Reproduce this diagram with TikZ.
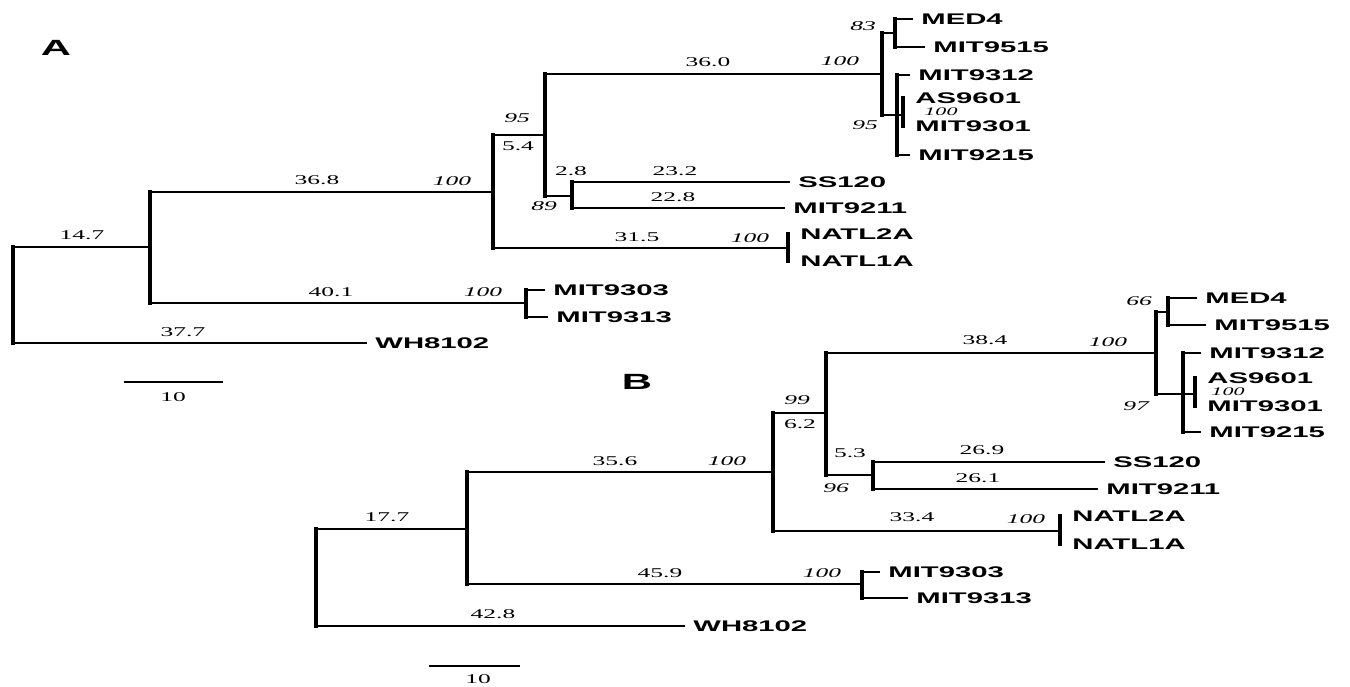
\documentclass[tikz,border=0pt]{standalone}
\usepackage{fontspec}
\usepackage{tikz}
\newfontfamily\taxfont[FakeStretch=1.9]{Liberation Sans}
\newfontfamily\numfont[FakeStretch=1.9]{Liberation Serif}

\tikzset{
  hbr/.style={line width=0.9pt},
  vbr/.style={line width=1.8pt, line cap=rect},
  sbar/.style={line width=1.3pt},
  taxon/.style={anchor=west, inner xsep=4pt, inner ysep=0pt, font={\taxfont\bfseries\fontsize{7.7}{9}\selectfont}},
  blen/.style={inner sep=0pt, font={\numfont\fontsize{6.7}{8}\selectfont}},
  boot/.style={inner sep=0pt, font={\numfont\itshape\fontsize{6.7}{8}\selectfont}},
  bootsm/.style={inner sep=0pt, font={\numfont\itshape\fontsize{5.8}{7}\selectfont}},
  panel/.style={inner sep=0pt, font={\taxfont\bfseries\fontsize{11}{13}\selectfont}},
}

\begin{document}
\begin{tikzpicture}[x=0.5pt, y=-0.5pt]
\useasboundingbox (0,0) rectangle (1350,686);

% Tree A
\begin{scope}
\node[panel] (labA) at (56,48) {A};
\foreach \n/\x/\y in {rA/13/295, a1/150/247, a2/493/192, a3/545/135, a4/882/74, a5/895/33,
    a6/897/115, a7/903/115, a8/572/196, a9/788/248, a10/526/303}
  \coordinate (\n) at (\x,\y);
\node[taxon] (medA)   at (913,19)  {MED4};
\node[taxon] (m9515A) at (925,47)  {MIT9515};
\node[taxon] (m9312A) at (910,75)  {MIT9312};
\node[taxon] (asA)    at (907,98)  {AS9601};
\node[taxon] (m9301A) at (907,126) {MIT9301};
\node[taxon] (m9215A) at (910,155) {MIT9215};
\node[taxon] (ssA)    at (790,182) {SS120};
\node[taxon] (m9211A) at (785,208) {MIT9211};
\node[taxon] (n2A)    at (792,234) {NATL2A};
\node[taxon] (n1A)    at (792,261) {NATL1A};
\node[taxon] (m9303A) at (545,290) {MIT9303};
\node[taxon] (m9313A) at (548,317) {MIT9313};
\node[taxon] (whA)    at (367,343) {WH8102};
% branches
\foreach \p/\c in {rA/a1, rA/whA, a1/a2, a1/a10, a2/a3, a2/a9, a3/a4, a3/a8, a4/a5, a4/a6,
    a5/medA, a5/m9515A, a6/m9312A, a6/a7, a6/m9215A, a8/ssA, a8/m9211A, a10/m9303A, a10/m9313A}
  \draw[hbr] (\p |- \c) -- (\c);
\foreach \n/\t/\b in {rA/a1/whA, a1/a2/a10, a2/a3/a9, a3/a4/a8, a4/a5/a6, a5/medA/m9515A,
    a6/m9312A/m9215A, a7/asA/m9301A, a8/ssA/m9211A, a9/n2A/n1A, a10/m9303A/m9313A}
  \draw[vbr] (\n |- \t) -- (\n |- \b);
% lengths and support
\foreach \t/\x/\y in {14.7/82/235, 36.8/317/180, 5.4/518/146, 36.0/708/62, 2.8/571/171,
    23.2/675/171, 22.8/673/197, 31.5/637/237, 40.1/331/292, 37.7/183/332}
  \node[blen] at (\x,\y) {\t};
\foreach \t/\x/\y in {100/452/181, 95/517/118, 100/840/61, 83/863/26, 95/865/125,
    89/544/206, 100/750/238, 100/483/292}
  \node[boot] at (\x,\y) {\t};
\node[bootsm] (bsA) at (941,112) {100};
\coordinate (sbA1) at (124,382);
\coordinate (sbA2) at (223,382);
\draw[sbar] (sbA1) -- (sbA2);
\node[blen] (sbtA) at (173,397) {10};
\end{scope}

% Tree B
\begin{scope}
\node[panel] (labB) at (637,382) {B};
\foreach \n/\x/\y in {rB/316/578, b1/467/529, b2/773/472, b3/826/413, b4/1156/353, b5/1168/312,
    b6/1183/394, b7/1195/394, b8/873/475, b9/1060/531, b10/862/584}
  \coordinate (\n) at (\x,\y);
\node[taxon] (medB)   at (1197,298) {MED4};
\node[taxon] (m9515B) at (1206,325) {MIT9515};
\node[taxon] (m9312B) at (1201,353) {MIT9312};
\node[taxon] (asB)    at (1199,378) {AS9601};
\node[taxon] (m9301B) at (1199,406) {MIT9301};
\node[taxon] (m9215B) at (1201,432) {MIT9215};
\node[taxon] (ssB)    at (1105,462) {SS120};
\node[taxon] (m9211B) at (1098,489) {MIT9211};
\node[taxon] (n2B)    at (1064,516) {NATL2A};
\node[taxon] (n1B)    at (1064,544) {NATL1A};
\node[taxon] (m9303B) at (880,572)  {MIT9303};
\node[taxon] (m9313B) at (908,598)  {MIT9313};
\node[taxon] (whB)    at (685,626)  {WH8102};
% branches
\foreach \p/\c in {rB/b1, rB/whB, b1/b2, b1/b10, b2/b3, b2/b9, b3/b4, b3/b8, b4/b5, b4/b6,
    b5/medB, b5/m9515B, b6/m9312B, b6/b7, b6/m9215B, b8/ssB, b8/m9211B, b10/m9303B, b10/m9313B}
  \draw[hbr] (\p |- \c) -- (\c);
\foreach \n/\t/\b in {rB/b1/whB, b1/b2/b10, b2/b3/b9, b3/b4/b8, b4/b5/b6, b5/medB/m9515B,
    b6/m9312B/m9215B, b7/asB/m9301B, b8/ssB/m9211B, b9/n2B/n1B, b10/m9303B/m9313B}
  \draw[vbr] (\n |- \t) -- (\n |- \b);
% lengths and support
\foreach \t/\x/\y in {17.7/387/517, 35.6/615/461, 6.2/800/424, 38.4/985/340, 5.3/850/453,
    26.9/982/450, 26.1/978/478, 33.4/912/517, 45.9/660/573, 42.8/493/614}
  \node[blen] at (\x,\y) {\t};
\foreach \t/\x/\y in {100/727/461, 99/797/400, 100/1108/342, 66/1139/301, 97/1136/406,
    96/836/488, 100/1026/519, 100/822/573}
  \node[boot] at (\x,\y) {\t};
\node[bootsm] (bsB) at (1228,392) {100};
\coordinate (sbB1) at (429,666);
\coordinate (sbB2) at (520,666);
\draw[sbar] (sbB1) -- (sbB2);
\node[blen] (sbtB) at (478,679) {10};
\end{scope}
\end{tikzpicture}
\end{document}
